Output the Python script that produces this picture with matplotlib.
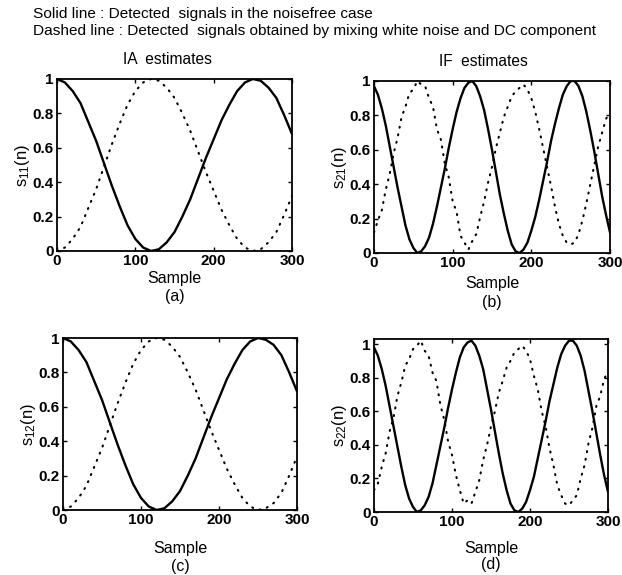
import numpy as np
import matplotlib
matplotlib.use("Agg")
import matplotlib.pyplot as plt

plt.rcParams['font.family'] = ['Liberation Sans', 'DejaVu Sans']
plt.rcParams['mathtext.default'] = 'regular'

# sample axes (every 10 samples for the IA panels, every 5 for the IF panels)
n_ia = np.arange(0, 301, 10)
n_if = np.arange(0, 301, 5)

# (a) IA estimates, s11(n)
s11_solid = [1.00, 0.98, 0.93, 0.86, 0.75, 0.64, 0.51, 0.38, 0.26, 0.15, 0.07,
             0.02, 0.00, 0.01, 0.05, 0.11, 0.20, 0.30, 0.42, 0.54, 0.65, 0.76,
             0.85, 0.93, 0.98, 1.00, 0.99, 0.95, 0.89, 0.79, 0.68]
s11_dotted = [0.00, 0.02, 0.07, 0.14, 0.25, 0.36, 0.49, 0.62, 0.74, 0.85, 0.93,
              0.98, 1.00, 0.99, 0.95, 0.89, 0.80, 0.70, 0.58, 0.46, 0.35, 0.24,
              0.15, 0.07, 0.02, 0.00, 0.01, 0.05, 0.11, 0.21, 0.32]

# (c) IA estimates, s12(n)
s12_solid = [1.00, 0.98, 0.93, 0.86, 0.75, 0.64, 0.51, 0.38, 0.26, 0.15, 0.07,
             0.02, 0.00, 0.01, 0.05, 0.11, 0.20, 0.30, 0.42, 0.54, 0.65, 0.76,
             0.85, 0.93, 0.98, 1.00, 0.99, 0.96, 0.90, 0.80, 0.69]
s12_dotted = [0.00, 0.02, 0.07, 0.14, 0.25, 0.36, 0.49, 0.62, 0.74, 0.85, 0.93,
              0.98, 1.00, 0.99, 0.95, 0.89, 0.80, 0.70, 0.58, 0.46, 0.35, 0.24,
              0.15, 0.07, 0.02, 0.00, 0.01, 0.04, 0.10, 0.20, 0.31]

# (b) IF estimates, s21(n)
s21_solid = [0.97, 0.92, 0.84, 0.74, 0.62, 0.50, 0.38, 0.27, 0.16, 0.08, 0.03,
             0.00, 0.01, 0.04, 0.09, 0.17, 0.27, 0.38, 0.49, 0.61, 0.72, 0.82,
             0.90, 0.96, 0.99, 1.00, 0.97, 0.91, 0.83, 0.72, 0.60, 0.47, 0.34,
             0.23, 0.13, 0.05, 0.01, 0.00, 0.02, 0.06, 0.13, 0.21, 0.31, 0.42,
             0.53, 0.65, 0.75, 0.84, 0.92, 0.97, 1.00, 1.00, 0.97, 0.91, 0.82,
             0.71, 0.59, 0.46, 0.33, 0.22, 0.12]
s21_dotted = [0.12, 0.19, 0.25, 0.37, 0.46, 0.58, 0.67, 0.79, 0.85, 0.93, 0.95,
              1.00, 0.98, 0.97, 0.90, 0.85, 0.72, 0.66, 0.52, 0.44, 0.30, 0.24,
              0.10, 0.06, 0.02, 0.07, 0.11, 0.21, 0.30, 0.41, 0.50, 0.61, 0.70,
              0.79, 0.85, 0.91, 0.94, 0.96, 0.98, 0.95, 0.90, 0.82, 0.72, 0.61,
              0.50, 0.39, 0.27, 0.17, 0.10, 0.06, 0.05, 0.06, 0.11, 0.19, 0.29,
              0.40, 0.51, 0.62, 0.70, 0.78, 0.82]

# (d) IF estimates, s22(n)
s22_solid = [0.98, 0.93, 0.85, 0.75, 0.63, 0.51, 0.39, 0.27, 0.16, 0.08, 0.03,
             0.00, 0.01, 0.04, 0.09, 0.17, 0.28, 0.39, 0.50, 0.62, 0.73, 0.83,
             0.92, 0.98, 1.01, 1.02, 0.99, 0.93, 0.85, 0.73, 0.61, 0.48, 0.35,
             0.23, 0.13, 0.05, 0.01, 0.00, 0.02, 0.06, 0.13, 0.21, 0.32, 0.43,
             0.54, 0.66, 0.76, 0.86, 0.94, 0.99, 1.02, 1.02, 0.99, 0.93, 0.84,
             0.72, 0.60, 0.47, 0.34, 0.22, 0.12]
s22_dotted = [0.13, 0.17, 0.27, 0.35, 0.48, 0.56, 0.69, 0.77, 0.87, 0.91, 0.97,
              0.99, 1.02, 0.96, 0.93, 0.83, 0.78, 0.64, 0.55, 0.42, 0.34, 0.22,
              0.13, 0.05, 0.07, 0.05, 0.12, 0.19, 0.31, 0.40, 0.51, 0.60, 0.71,
              0.78, 0.86, 0.90, 0.95, 0.97, 0.99, 0.96, 0.91, 0.81, 0.73, 0.60,
              0.51, 0.38, 0.28, 0.16, 0.10, 0.05, 0.04, 0.07, 0.10, 0.20, 0.28,
              0.41, 0.50, 0.63, 0.69, 0.79, 0.84]

x_ticks = [0, 100, 200, 300]
y_ticks = [0, 0.2, 0.4, 0.6, 0.8, 1]
y_ticklabels = ['0', '0.2', '0.4', '0.6', '0.8', '1']

W, H = 622, 575
fig = plt.figure(figsize=(W / 100, H / 100), dpi=100)


def px_axes(l, t, r, b):
    return fig.add_axes([l / W, 1 - b / H, (r - l) / W, (b - t) / H])


panels = [
    # box in pixels, x, solid, dotted, ylabel, ytop, label, label rows
    ((57, 79, 292, 251), n_ia, s11_solid, s11_dotted, '$s_{11}(n)$', 1.0, '(a)', (279, 297)),
    ((374, 81, 610, 253), n_if, s21_solid, s21_dotted, '$s_{21}(n)$', 1.0, '(b)', (284, 303)),
    ((63, 338, 297, 510), n_ia, s12_solid, s12_dotted, '$s_{12}(n)$', 1.0, '(c)', (548, 566)),
    ((374, 339, 608, 512), n_if, s22_solid, s22_dotted, '$s_{22}(n)$', 1.03, '(d)', (548, 565)),
]

for box, x, solid, dotted, ylab, ytop, tag, rows in panels:
    ax = px_axes(*box)
    ax.plot(x, solid, color='black', linewidth=1.7, solid_capstyle='round')
    ax.plot(x, dotted, color='black', linewidth=1.5,
            linestyle=(0, (0.5, 3.2)), dash_capstyle='round')
    ax.set_xlim(0, 300)
    ax.set_ylim(0, ytop)
    ax.set_xticks(x_ticks)
    ax.set_xticklabels([str(v) for v in x_ticks])
    ax.set_yticks(y_ticks)
    ax.set_yticklabels(y_ticklabels)
    ax.tick_params(direction='in', top=True, right=True, length=3, width=1,
                   labelsize=11, pad=2.5)
    for lab in ax.get_xticklabels() + ax.get_yticklabels():
        lab.set_fontweight('bold')
    for sp in ax.spines.values():
        sp.set_linewidth(1.3)
    ax.set_ylabel(ylab, fontsize=12, labelpad=0)
    cx = (box[0] + box[2]) / 2
    fig.text(cx / W, 1 - rows[0] / H, 'Sample', ha='center', va='center', fontsize=11.5)
    fig.text(cx / W, 1 - rows[1] / H, tag, ha='center', va='center', fontsize=11.5)

fig.text(33 / W, 1 - 14 / H, 'Solid line : Detected  signals in the noisefree case',
         ha='left', va='center', fontsize=11.1)
fig.text(33 / W, 1 - 31 / H,
         'Dashed line : Detected  signals obtained by mixing white noise and DC component',
         ha='left', va='center', fontsize=11.1)
fig.text(167 / W, 1 - 60 / H, 'IA  estimates', ha='center', va='center', fontsize=11.2)
fig.text(483 / W, 1 - 62 / H, 'IF  estimates', ha='center', va='center', fontsize=11.2)

fig.savefig('out.png', dpi=100)
